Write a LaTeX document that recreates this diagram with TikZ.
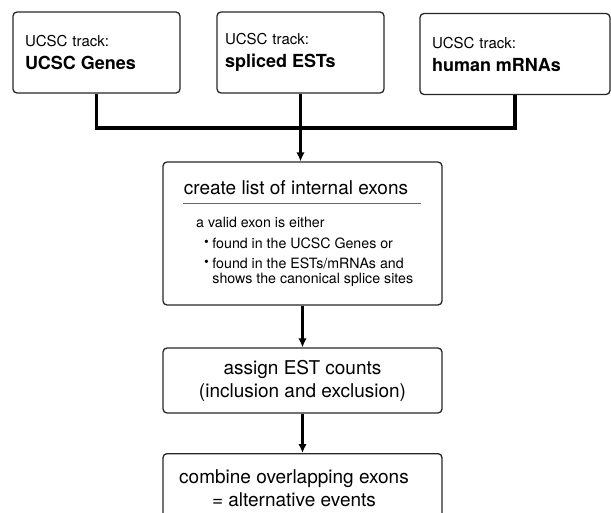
\documentclass[tikz,border=0pt]{standalone}
\usepackage{fontspec}
\setmainfont{TeX Gyre Heros}
\usetikzlibrary{arrows.meta}

\newcommand{\exonbullet}{\raisebox{2.2pt}{\scalebox{0.95}{\textbullet}}\hspace{3.5pt}}

\begin{document}
\begin{tikzpicture}[x=1pt,y=-1pt,
    stepbox/.style={draw=black!85,line width=1.3pt,rounded corners=4pt},
    trackbox/.style={stepbox,minimum height=81pt,align=left,
      font=\fontsize{15}{23}\selectfont},
    wide/.style={stepbox,minimum width=279pt,align=center,
      font=\fontsize{19}{23}\selectfont},
    small/.style={inner sep=0pt,anchor=west,align=left,
      font=\fontsize{14.2}{14.5}\selectfont},
    flow/.style={line width=3.2pt,-{Latex[length=9pt,width=8.5pt]}}]
  \useasboundingbox (0,0) rectangle (611,513);
  % the three UCSC tracks
  \node[trackbox,inner xsep=12pt,text width=143pt] (genes) at (96.5,52.5)
    {UCSC track:\\{\fontsize{18}{23}\selectfont\bfseries UCSC Genes}};
  \node[trackbox,inner xsep=8pt,text width=151pt] (ests) at (300.5,52.5)
    {UCSC track:\\{\fontsize{18}{23}\selectfont\bfseries spliced ESTs}};
  \node[trackbox,inner xsep=12pt,text width=166pt] (mrna) at (515,54)
    {UCSC track:\\{\fontsize{18}{23}\selectfont\bfseries human mRNAs}};
  % list of internal exons
  \node[wide,minimum height=143pt] (list) at (302.5,233.5) {};
  \node[inner sep=0pt,font=\fontsize{19}{23}\selectfont] (listtitle)
    at (296,188) {create list of internal exons};
  \draw[black!60,line width=0.8pt] (183,203) -- (421,203) ;
  \node[small] (valid) at (196,222) {a valid exon is either};
  \node[small] (itema) at (204,243.5) {\exonbullet found in the UCSC Genes or};
  \node[small] (itemb) at (204,272)
    {\exonbullet found in the ESTs/mRNAs and\\
     \hphantom{\exonbullet}shows the canonical splice sites};
  % counting and combining
  \node[wide,minimum height=65pt] (counts) at (302.5,380.5)
    {assign EST counts\\(inclusion and exclusion)};
  \node[wide,minimum height=72pt,anchor=north] (combine) at (302.5,453) {};
  \node[align=center,inner sep=0pt,font=\fontsize{19}{23}\selectfont]
    (combinetext) at (294,488.5) {combine overlapping exons\\= alternative events};
  % connectors
  \coordinate (merge) at (300.5,128) ;
  \draw[line width=3.2pt] (genes.south) |- (merge) -| (mrna.south) ;
  \draw[flow] (ests.south) -- (ests.south |- list.north) ;
  \draw[flow] (list.south) -- (counts.north) ;
  \draw[flow] (counts.south) -- (combine.north) ;
\end{tikzpicture}
\end{document}
